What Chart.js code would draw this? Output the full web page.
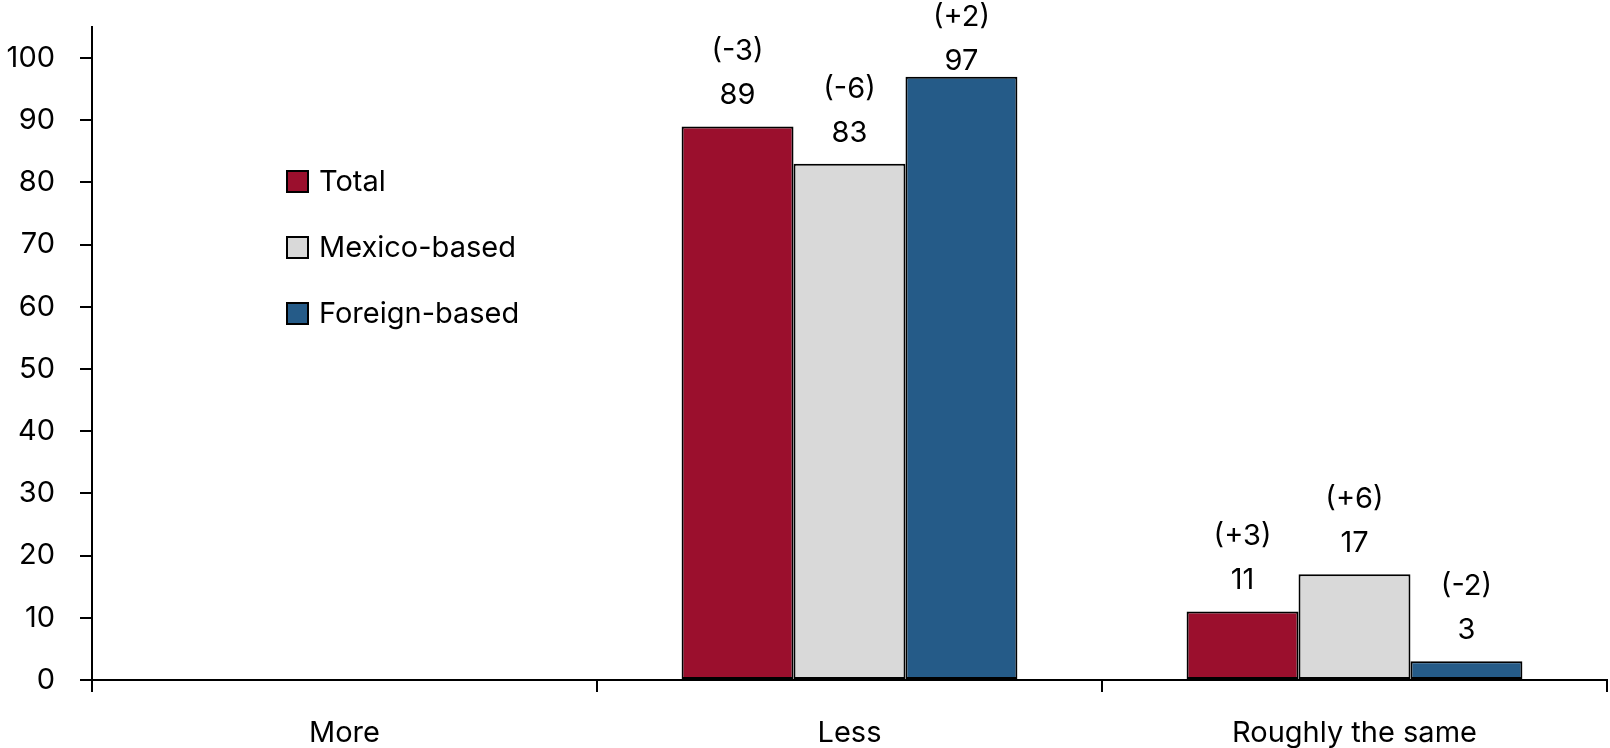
<!DOCTYPE html>
<html lang="en">
<head>
<meta charset="UTF-8">
<title>More / Less / Roughly the same</title>
<script src="https://cdn.jsdelivr.net/npm/chart.js"></script>
<style>
body {
  margin: 0;
  padding: 0;
  background: #fff;
}

.chart-box {
  position: relative;
  width: 1610px;
  height: 748px;
}
</style>
</head>
<body>

<div class="chart-box">
  <canvas id="barChart"></canvas>
</div>

<script>
// data
const categories = ['More', 'Less', 'Roughly the same'];
const seriesNames = ['Total', 'Mexico-based', 'Foreign-based'];
const totalValues = [null, 89, 11];
const mexicoValues = [null, 83, 17];
const foreignValues = [null, 97, 3];
const totalChanges = [null, '(-3)', '(+3)'];
const mexicoChanges = [null, '(-6)', '(+6)'];
const foreignChanges = [null, '(+2)', '(-2)'];
const yTicks = [0, 10, 20, 30, 40, 50, 60, 70, 80, 90, 100];

const colors = ['#9b0f2d', '#d9d9d9', '#255b88'];
const changes = [totalChanges, mexicoChanges, foreignChanges];
const FONT = 'Inter, "Liberation Sans", Arial, sans-serif';
const FONT_SIZE = 29;

// two-line labels above every bar: change in brackets, then the value
const barLabels = {
  id: 'barLabels',
  afterDatasetsDraw(chart) {
    const ctx = chart.ctx;
    ctx.save();
    ctx.font = FONT_SIZE + 'px ' + FONT;
    ctx.fillStyle = '#000';
    ctx.textAlign = 'center';
    ctx.textBaseline = 'middle';
    chart.data.datasets.forEach((ds, i) => {
      chart.getDatasetMeta(i).data.forEach((bar, j) => {
        if (ds.data[j] == null) return;
        let valueY = bar.y - 31;
        let changeY = valueY - 44;
        if (changeY < 17) {
          changeY = 17;
          valueY = 61;
        }
        ctx.fillText(String(ds.data[j]), bar.x, valueY);
        ctx.fillText(changes[i][j], bar.x, changeY);
      });
    });
    ctx.restore();
  }
};

// legend inside the plot, left side
const innerLegend = {
  id: 'innerLegend',
  afterDraw(chart) {
    const ctx = chart.ctx;
    ctx.save();
    ctx.font = FONT_SIZE + 'px ' + FONT;
    ctx.textAlign = 'left';
    ctx.textBaseline = 'middle';
    chart.data.datasets.forEach((ds, i) => {
      const cy = 181.5 + i * 66;
      ctx.fillStyle = ds.backgroundColor;
      ctx.fillRect(287, cy - 10.5, 21, 21);
      ctx.lineWidth = 2;
      ctx.strokeStyle = '#000';
      ctx.strokeRect(287, cy - 10.5, 21, 21);
      ctx.fillStyle = '#000';
      ctx.fillText(ds.label, 319, cy + 1);
    });
    ctx.restore();
  }
};

const ctx = document.getElementById('barChart').getContext('2d');
new Chart(ctx, {
  type: 'bar',
  data: {
    labels: categories,
    datasets: [
      { label: seriesNames[0], data: totalValues, backgroundColor: colors[0] },
      { label: seriesNames[1], data: mexicoValues, backgroundColor: colors[1] },
      { label: seriesNames[2], data: foreignValues, backgroundColor: colors[2] }
    ]
  },
  options: {
    responsive: true,
    maintainAspectRatio: false,
    animation: false,
    layout: {
      padding: { top: 27, right: 3, left: 0, bottom: 0 }
    },
    datasets: {
      bar: {
        borderColor: '#000',
        borderWidth: 2,
        borderSkipped: false,
        categoryPercentage: 0.665,
        barPercentage: 1
      }
    },
    plugins: {
      legend: { display: false },
      tooltip: { enabled: false }
    },
    scales: {
      x: {
        grid: {
          offset: true,
          drawOnChartArea: false,
          drawTicks: true,
          tickLength: 12,
          color: '#000',
          lineWidth: 2
        },
        border: { color: '#000', width: 2 },
        ticks: {
          color: '#000',
          font: { family: FONT, size: FONT_SIZE },
          padding: 24,
          maxRotation: 0
        },
        afterFit(scale) {
          scale.height = 68;
        }
      },
      y: {
        min: 0,
        max: 105,
        grid: {
          drawOnChartArea: false,
          drawTicks: true,
          tickLength: 12,
          color: '#000',
          lineWidth: 2
        },
        border: { color: '#000', width: 2 },
        ticks: {
          color: '#000',
          font: { family: FONT, size: FONT_SIZE },
          padding: 25
        },
        afterBuildTicks(scale) {
          scale.ticks = yTicks.map(v => ({ value: v }));
        },
        afterFit(scale) {
          scale.width = 92;
          scale.paddingTop = 0;
          scale.paddingBottom = 0;
        }
      }
    }
  },
  plugins: [barLabels, innerLegend]
});
</script>

</body>
</html>
